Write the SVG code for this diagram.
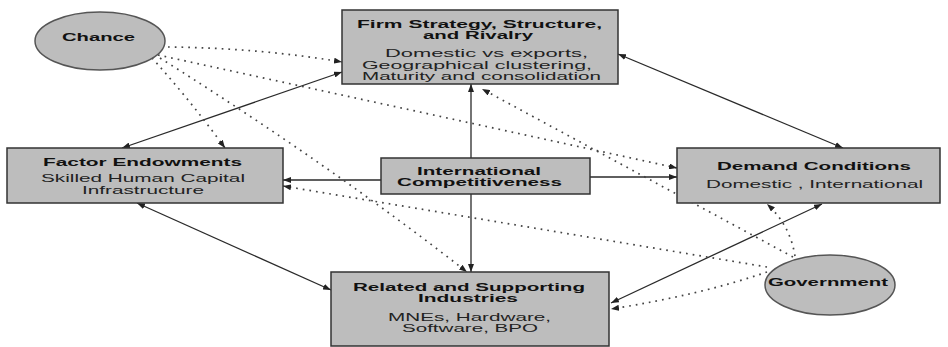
<svg xmlns="http://www.w3.org/2000/svg" width="948" height="347" viewBox="0 0 948 347">
<style>
.box{fill:#bdbdbd;stroke:#333;stroke-width:1.5}
.ell{fill:#bdbdbd;stroke:#555;stroke-width:1.5}
.t{font-family:"Liberation Sans",Arial,sans-serif;font-size:11px;fill:#222}
.b{font-family:"Liberation Sans",Arial,sans-serif;font-size:11px;font-weight:bold;fill:#111}
.s{fill:none;stroke:#2a2a2a;stroke-width:1.3}
.d{fill:none;stroke:#444;stroke-width:1.7;stroke-dasharray:1.7 5}
</style>
<defs>
<marker id="ah" viewBox="0 0 8 6" refX="8" refY="3" markerWidth="8" markerHeight="6" markerUnits="userSpaceOnUse" orient="auto-start-reverse">
<path d="M0,0 L8,3 L0,6 z" fill="#222"/>
</marker>
</defs>
<rect width="948" height="347" fill="#fff"/>
<g id="connectors">
<path class="s" d="M122,148 L342,72" marker-start="url(#ah)" marker-end="url(#ah)"/>
<path class="s" d="M618,54 L843,148" marker-start="url(#ah)" marker-end="url(#ah)"/>
<path class="s" d="M137,203 L331,290" marker-start="url(#ah)" marker-end="url(#ah)"/>
<path class="s" d="M611,303 L822,204" marker-start="url(#ah)" marker-end="url(#ah)"/>
<path class="s" d="M471,158 L471,84" marker-end="url(#ah)"/>
<path class="s" d="M471,194 L471,272" marker-end="url(#ah)"/>
<path class="s" d="M381,180 L283,180" marker-end="url(#ah)"/>
<path class="s" d="M590,177 L677,177" marker-end="url(#ah)"/>
<path class="d" d="M168,47 Q260,48 342,62" marker-end="url(#ah)"/>
<path class="d" d="M158,55 L677,168" marker-end="url(#ah)"/>
<path class="d" d="M152,58 Q190,100 225,148" marker-end="url(#ah)"/>
<path class="d" d="M160,58 Q330,165 467,272" marker-end="url(#ah)"/>
<path class="d" d="M793,257 L482,89" marker-end="url(#ah)"/>
<path class="d" d="M767,267 L283,186" marker-end="url(#ah)"/>
<path class="d" d="M767,272 Q700,295 611,309" marker-end="url(#ah)"/>
<path class="d" d="M795,256 Q790,225 767,204" marker-end="url(#ah)"/>
</g>
<g id="chance">
<ellipse class="ell" cx="100" cy="41" rx="65" ry="29"/>
<text class="b" x="62" y="41" textLength="73" lengthAdjust="spacingAndGlyphs">Chance</text>
</g>
<g id="government">
<ellipse class="ell" cx="830" cy="285" rx="65" ry="30"/>
<text class="b" x="768" y="286" textLength="120" lengthAdjust="spacingAndGlyphs">Government</text>
</g>
<g id="firm">
<rect class="box" x="342" y="10" width="276" height="74"/>
<text class="b" x="357" y="28" textLength="245" lengthAdjust="spacingAndGlyphs">Firm Strategy, Structure,</text>
<text class="b" x="423" y="39" textLength="110" lengthAdjust="spacingAndGlyphs">and Rivalry</text>
<text class="t" x="385" y="57" textLength="203" lengthAdjust="spacingAndGlyphs">Domestic vs exports,</text>
<text class="t" x="362" y="69" textLength="230" lengthAdjust="spacingAndGlyphs">Geographical clustering,</text>
<text class="t" x="362" y="80" textLength="239" lengthAdjust="spacingAndGlyphs">Maturity and consolidation</text>
</g>
<g id="factor">
<rect class="box" x="7" y="148" width="276" height="55"/>
<text class="b" x="43" y="166" textLength="199" lengthAdjust="spacingAndGlyphs">Factor Endowments</text>
<text class="t" x="41" y="182" textLength="204" lengthAdjust="spacingAndGlyphs">Skilled Human Capital</text>
<text class="t" x="82" y="194" textLength="122" lengthAdjust="spacingAndGlyphs">Infrastructure</text>
</g>
<g id="international">
<rect class="box" x="381" y="158" width="209" height="36"/>
<text class="b" x="417" y="175" textLength="124" lengthAdjust="spacingAndGlyphs">International</text>
<text class="b" x="397" y="186" textLength="165" lengthAdjust="spacingAndGlyphs">Competitiveness</text>
</g>
<g id="demand">
<rect class="box" x="677" y="148" width="263" height="55"/>
<text class="b" x="717" y="170" textLength="194" lengthAdjust="spacingAndGlyphs">Demand Conditions</text>
<text class="t" x="706" y="188" textLength="217" lengthAdjust="spacingAndGlyphs">Domestic , International</text>
</g>
<g id="related">
<rect class="box" x="331" y="272" width="278" height="74"/>
<text class="b" x="353" y="291" textLength="232" lengthAdjust="spacingAndGlyphs">Related and Supporting</text>
<text class="b" x="418" y="302" textLength="100" lengthAdjust="spacingAndGlyphs">Industries</text>
<text class="t" x="388" y="321" textLength="163" lengthAdjust="spacingAndGlyphs">MNEs, Hardware,</text>
<text class="t" x="402" y="332" textLength="136" lengthAdjust="spacingAndGlyphs">Software, BPO</text>
</g>
</svg>
